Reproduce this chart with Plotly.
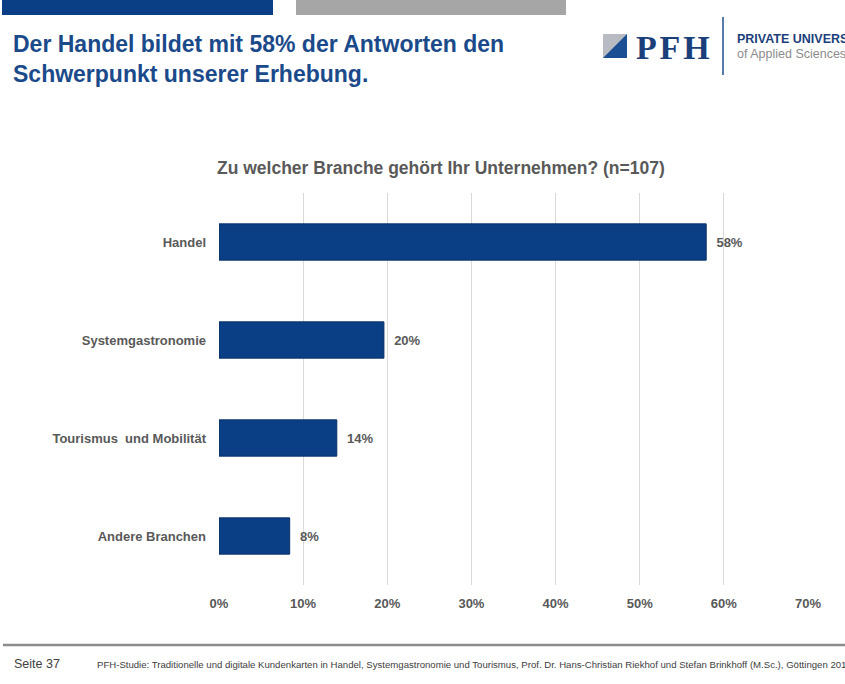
import plotly.graph_objects as go

# survey answers, n=107
categories = ["Handel", "Systemgastronomie", "Tourismus  und Mobilität", "Andere Branchen"]
shares = [57.9, 19.6, 14.0, 8.4]
tick_values = [0, 10, 20, 30, 40, 50, 60, 70]
tick_labels = ["0%", "10%", "20%", "30%", "40%", "50%", "60%", "70%"]

BLUE = "#0b3f85"
GREY_TEXT = "#595959"
SANS = "Liberation Sans, Arial, sans-serif"

W, H = 845, 684
ML, MR, MT, MB = 219, 37, 193, 99

fig = go.Figure()
fig.add_trace(
    go.Bar(
        x=shares,
        y=categories,
        orientation="h",
        marker={"color": BLUE, "line": {"color": "#082f66", "width": 1}},
        width=0.37,
        texttemplate="\u00a0\u00a0%{x:.0f}%",
        textposition="outside",
        textfont={"family": SANS, "size": 13, "color": GREY_TEXT, "weight": "bold"},
        cliponaxis=False,
        hoverinfo="skip",
    )
)

fig.update_layout(
    width=W,
    height=H,
    margin={"l": ML, "r": MR, "t": MT, "b": MB, "pad": 0},
    paper_bgcolor="white",
    plot_bgcolor="white",
    showlegend=False,
    font={"family": SANS, "color": GREY_TEXT},
    xaxis={
        "range": [0, 70],
        "tickvals": tick_values,
        "ticktext": tick_labels,
        "showgrid": True,
        "gridcolor": "#d9d9d9",
        "gridwidth": 1,
        "zeroline": False,
        "showline": False,
        "ticks": "",
        "ticklabelstandoff": 9,
        "tickfont": {"size": 13, "color": GREY_TEXT, "family": SANS, "weight": "bold"},
        "fixedrange": True,
    },
    yaxis={
        "range": [3.5, -0.5],
        "showgrid": False,
        "zeroline": False,
        "showline": False,
        "ticks": "",
        "ticklabelstandoff": 12,
        "tickfont": {"size": 13, "color": GREY_TEXT, "family": SANS, "weight": "bold"},
        "fixedrange": True,
    },
)


def px_x(v):
    return (v - ML) / (W - ML - MR)


def px_y(v):
    return (H - MB - v) / (H - MT - MB)


# page decoration: header bars
header_bars = [
    {"x0": 2, "x1": 273, "y0": 0, "y1": 15, "color": "#0b3f85"},
    {"x0": 296, "x1": 566, "y0": 0, "y1": 15, "color": "#a6a6a6"},
]
for s in header_bars:
    fig.add_shape(
        type="rect", xref="paper", yref="paper",
        x0=px_x(s["x0"]), x1=px_x(s["x1"]), y0=px_y(s["y1"]), y1=px_y(s["y0"]),
        fillcolor=s["color"], line_width=0, layer="above",
    )

# footer rule
fig.add_shape(type="line", xref="paper", yref="paper", x0=px_x(3), x1=px_x(845), y0=px_y(645), y1=px_y(645),
              line={"color": "#8c8c8c", "width": 2.5})
# logo divider
fig.add_shape(type="line", xref="paper", yref="paper", x0=px_x(723), x1=px_x(723), y0=px_y(17), y1=px_y(75),
              line={"color": "#1f4e8c", "width": 1.5})
# logo icon
fig.add_shape(type="rect", xref="paper", yref="paper", x0=px_x(603), x1=px_x(627), y0=px_y(58), y1=px_y(34),
              fillcolor="#b8bcc2", line_width=0)
fig.add_shape(type="path", xref="paper", yref="paper",
              path=f"M {px_x(603)} {px_y(58)} L {px_x(627)} {px_y(58)} L {px_x(627)} {px_y(34)} Z",
              fillcolor="#1a4f93", line_width=0)

annotations = [
    {"text": "<b>Der Handel bildet mit 58% der Antworten den<br>Schwerpunkt unserer Erhebung.</b>",
     "x": 11, "y": 29, "size": 23, "color": "#1b4a8a", "family": SANS},
    {"text": "<b>P\u200aF\u200aH</b>", "x": 634, "y": 27, "size": 34, "color": "#1b3f7a",
     "family": "Liberation Serif, Times New Roman, serif"},
    {"text": "<b>PRIVATE UNIVERSITY</b>", "x": 735, "y": 30, "size": 12.5, "color": "#1b3f7a", "family": SANS},
    {"text": "of Applied Sciences", "x": 735, "y": 45, "size": 12.5, "color": "#8c8c8c", "family": SANS},
    {"text": "<b>Zu welcher Branche gehört Ihr Unternehmen? (n=107)</b>",
     "x": 441, "y": 156, "size": 17.5, "color": GREY_TEXT, "family": SANS, "anchor": "center"},
    {"text": "Seite 37", "x": 12, "y": 655, "size": 12.5, "color": "#404040", "family": SANS},
    {"text": "PFH-Studie: Traditionelle und digitale Kundenkarten in Handel, Systemgastronomie und Tourismus, "
             "Prof. Dr. Hans-Christian Riekhof und Stefan Brinkhoff (M.Sc.), Göttingen 2017",
     "x": 95, "y": 657, "size": 9.6, "color": "#404040", "family": SANS},
]
for a in annotations:
    fig.add_annotation(
        text=a["text"], xref="paper", yref="paper", x=px_x(a["x"]), y=px_y(a["y"]),
        xanchor=a.get("anchor", "left"), yanchor="top", showarrow=False, align="left",
        font={"size": a["size"], "color": a["color"], "family": a["family"]},
    )

fig.write_html(
    "out.html",
    config={"displayModeBar": False},
    post_script="document.body.style.margin='0';",
)
